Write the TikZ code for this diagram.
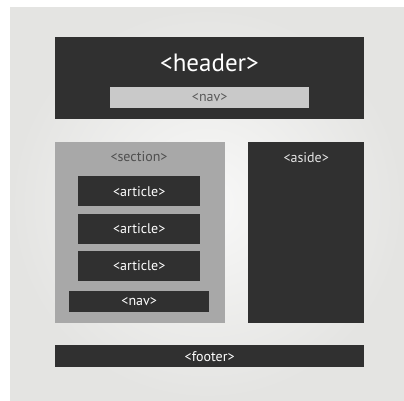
\documentclass[tikz,border=0pt]{standalone}
\usepackage{fontspec}
\setmainfont{PT Sans}
\usepackage{xcolor}
\usepackage{tikz}
\usetikzlibrary{positioning}
\definecolor{boxdark}{HTML}{303030}
\definecolor{boxmid}{HTML}{A8A8A8}
\definecolor{boxlight}{HTML}{C9C9C9}
\definecolor{paper}{HTML}{E4E4E2}
\tikzset{dark box/.style={rectangle,fill=boxdark,inner sep=0pt,anchor=north west},
	mid box/.style={dark box,fill=boxmid},
	light box/.style={dark box,fill=boxlight},
	tag/.style={inner sep=0pt,text=white,font=\fontsize{14}{16}\selectfont},}

\begin{document}
\begin{tikzpicture}[x=1pt,y=-1pt]
	% page
	\fill[white] (0,0) rectangle (404,400);
	\shade[inner color=paper!25!white,outer color=paper] (10,7) rectangle (404,400);

	% header
	\node[dark box,minimum width=309pt,minimum height=82pt] (header) at (55,37) {};
	\node[tag,font=\fontsize{25}{28}\selectfont] (headertxt) at (209.5,63) {<header>};
	\node[light box,minimum width=199pt,minimum height=21pt] (topnav) at (110,87) {};
	\node[tag,text=boxdark!80] (topnavtxt) at (topnav.center) {<nav>};

	% section
	\node[mid box,minimum width=170pt,minimum height=181pt] (section) at (55,142) {};
	\node[tag,text=boxdark!85] (sectiontxt) at (139,157) {<section>};
	\node[dark box,minimum width=122pt,minimum height=30pt] (art1) at (78,176) {};
	\node[dark box,minimum width=122pt,minimum height=30pt] (art2) [below=7pt of art1.south west,anchor=north west] {};
	\node[dark box,minimum width=122pt,minimum height=30pt] (art3) [below=7pt of art2.south west,anchor=north west] {};
	\node[tag] (art1txt) at (art1.center) {<article>};
	\node[tag] (art2txt) at (art2.center) {<article>};
	\node[tag] (art3txt) at (art3.center) {<article>};
	\node[dark box,minimum width=140pt,minimum height=21pt] (subnav) at (69,291) {};
	\node[tag] (subnavtxt) at (subnav.center) {<nav>};

	% aside
	\node[dark box,minimum width=116pt,minimum height=181pt] (aside) at (248,142) {};
	\node[tag,text=white!90!black] (asidetxt) [below=10pt of aside.north] {<aside>};

	% footer
	\node[dark box,minimum width=309pt,minimum height=22pt] (footer) at (55,345) {};
	\node[tag] (footertxt) at (footer.center) {<footer>};
\end{tikzpicture}
\end{document}
